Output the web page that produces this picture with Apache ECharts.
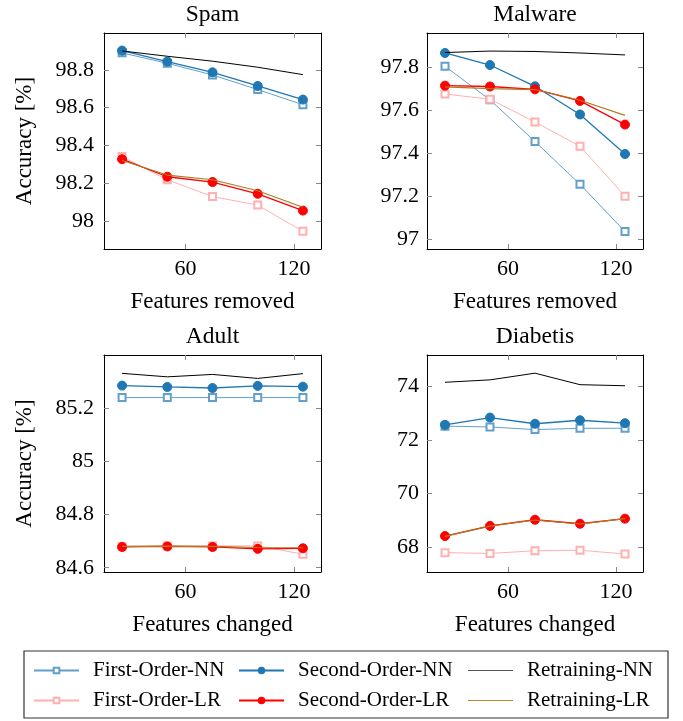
<!DOCTYPE html>
<html>
<head>
<meta charset="utf-8">
<script src="https://cdn.jsdelivr.net/npm/echarts@6/dist/echarts.min.js"></script>
<style>html,body{margin:0;padding:0;background:#fff}#c{width:683px;height:721px}</style>
</head>
<body>
<div id="c"></div>
<script>
// ---- data ----
const xs = [25, 50, 75, 100, 125];
const seriesNames = ['First-Order-NN', 'Second-Order-NN', 'Retraining-NN', 'First-Order-LR', 'Second-Order-LR', 'Retraining-LR'];
const panelTitles = ['Spam', 'Malware', 'Adult', 'Diabetis'];
const xAxisNames = ['Features removed', 'Features removed', 'Features changed', 'Features changed'];
const yAxisName = 'Accuracy [%]';
const xTicks = [60, 120];
const xRange = [15, 135];

const spamFirstNN   = [98.890, 98.835, 98.773, 98.696, 98.616];
const spamSecondNN  = [98.902, 98.844, 98.787, 98.715, 98.643];
const spamRetrainNN = [98.900, 98.872, 98.846, 98.814, 98.775];
const spamFirstLR   = [98.342, 98.219, 98.130, 98.085, 97.947];
const spamSecondLR  = [98.328, 98.235, 98.207, 98.145, 98.056];
const spamRetrainLR = [98.321, 98.244, 98.219, 98.161, 98.074];
const spamTicks = [98, 98.2, 98.4, 98.6, 98.8];
const spamRange = [97.853, 98.995];

const malwareFirstNN   = [97.803, 97.647, 97.453, 97.254, 97.034];
const malwareSecondNN  = [97.865, 97.809, 97.710, 97.579, 97.395];
const malwareRetrainNN = [97.867, 97.874, 97.872, 97.865, 97.856];
const malwareFirstLR   = [97.674, 97.650, 97.544, 97.431, 97.199];
const malwareSecondLR  = [97.713, 97.709, 97.696, 97.642, 97.532];
const malwareRetrainLR = [97.707, 97.699, 97.695, 97.645, 97.575];
const malwareTicks = [97, 97.2, 97.4, 97.6, 97.8];
const malwareRange = [96.953, 97.958];

const adultFirstNN   = [85.239, 85.239, 85.239, 85.239, 85.239];
const adultSecondNN  = [85.284, 85.279, 85.275, 85.283, 85.280];
const adultRetrainNN = [85.330, 85.317, 85.326, 85.311, 85.329];
const adultFirstLR   = [84.680, 84.682, 84.682, 84.682, 84.651];
const adultSecondLR  = [84.678, 84.680, 84.678, 84.671, 84.673];
const adultRetrainLR = [84.680, 84.681, 84.680, 84.676, 84.675];
const adultTicks = [84.6, 84.8, 85, 85.2];
const adultRange = [84.584, 85.399];

const diabetisFirstNN   = [72.51, 72.48, 72.38, 72.43, 72.43];
const diabetisSecondNN  = [72.56, 72.83, 72.60, 72.73, 72.62];
const diabetisRetrainNN = [74.15, 74.24, 74.49, 74.06, 74.02];
const diabetisFirstLR   = [67.78, 67.75, 67.85, 67.87, 67.73];
const diabetisSecondLR  = [68.40, 68.78, 69.01, 68.86, 69.05];
const diabetisRetrainLR = [68.39, 68.77, 69.00, 68.85, 69.05];
const diabetisTicks = [68, 70, 72, 74];
const diabetisRange = [67.056, 75.17];

const panelSeries = [
  [spamFirstNN, spamSecondNN, spamRetrainNN, spamFirstLR, spamSecondLR, spamRetrainLR],
  [malwareFirstNN, malwareSecondNN, malwareRetrainNN, malwareFirstLR, malwareSecondLR, malwareRetrainLR],
  [adultFirstNN, adultSecondNN, adultRetrainNN, adultFirstLR, adultSecondLR, adultRetrainLR],
  [diabetisFirstNN, diabetisSecondNN, diabetisRetrainNN, diabetisFirstLR, diabetisSecondLR, diabetisRetrainLR]
];
const panelTicks = [spamTicks, malwareTicks, adultTicks, diabetisTicks];
const panelRanges = [spamRange, malwareRange, adultRange, diabetisRange];

// ---- styles ----
const FONT = '"Liberation Serif", "DejaVu Serif", serif';
const grids = [
  {left: 104, top: 33, width: 217, height: 216},
  {left: 427, top: 33, width: 216, height: 216},
  {left: 104, top: 355, width: 217, height: 217},
  {left: 427, top: 355, width: 216, height: 217}
];
const styles = [
  {color: '#62a0cb', symbol: 'emptyRect', size: 7, width: 1},
  {color: '#1f77b4', symbol: 'circle', size: 9, width: 1.3},
  {color: '#000000', symbol: 'none', size: 0, width: 1},
  {color: '#ffb0b0', symbol: 'emptyRect', size: 7, width: 1},
  {color: '#ff0000', symbol: 'circle', size: 9, width: 1.3},
  {color: '#ad7b22', symbol: 'none', size: 0, width: 1.2}
];
const legendIconColors = ['#62a0cb', '#1f77b4', '#555555', '#ffb0b0', '#ff0000', '#b8892e'];
const labelMargins = [10, 8, 10, 8];

const tickStyle = {inside: true, length: 5, lineStyle: {color: '#888', width: 1}};
const axisLineStyle = {show: true, lineStyle: {color: '#000', width: 1}};

const xAxes = [], yAxes = [], series = [];
grids.forEach((g, p) => {
  xAxes.push({
    type: 'value', gridIndex: p, position: 'bottom', min: xRange[0], max: xRange[1],
    axisLine: axisLineStyle, splitLine: {show: false},
    axisTick: Object.assign({customValues: xTicks}, tickStyle),
    axisLabel: {customValues: xTicks, margin: 9, fontFamily: FONT, fontSize: 22, color: '#000'},
    name: xAxisNames[p], nameLocation: 'middle', nameGap: 41,
    nameTextStyle: {fontFamily: FONT, fontSize: 23, color: '#000'}
  });
  xAxes.push({
    type: 'value', gridIndex: p, position: 'top', min: xRange[0], max: xRange[1],
    axisLine: axisLineStyle, splitLine: {show: false},
    axisTick: Object.assign({customValues: xTicks}, tickStyle),
    axisLabel: {show: false},
    name: panelTitles[p], nameLocation: 'middle', nameGap: 6,
    nameTextStyle: {fontFamily: FONT, fontSize: 23.5, color: '#000'}
  });
  const yl = {
    type: 'value', gridIndex: p, position: 'left', min: panelRanges[p][0], max: panelRanges[p][1],
    axisLine: axisLineStyle, splitLine: {show: false},
    axisTick: Object.assign({customValues: panelTicks[p]}, tickStyle),
    axisLabel: {customValues: panelTicks[p], margin: labelMargins[p], fontFamily: FONT, fontSize: 22, color: '#000'}
  };
  if (p % 2 === 0) {
    yl.name = yAxisName; yl.nameLocation = 'middle'; yl.nameGap = 68; yl.nameRotate = 90;
    yl.nameTextStyle = {fontFamily: FONT, fontSize: 23, color: '#000'};
  }
  yAxes.push(yl);
  yAxes.push({
    type: 'value', gridIndex: p, position: 'right', min: panelRanges[p][0], max: panelRanges[p][1],
    axisLine: axisLineStyle, splitLine: {show: false},
    axisTick: Object.assign({customValues: panelTicks[p]}, tickStyle),
    axisLabel: {show: false}
  });
  panelSeries[p].forEach((vals, k) => {
    const st = styles[k];
    series.push({
      type: 'line', name: seriesNames[k],
      xAxisIndex: 2 * p, yAxisIndex: 2 * p,
      data: xs.map((x, i) => [x, vals[i]]),
      symbol: st.symbol, symbolSize: st.size, showSymbol: st.symbol !== 'none',
      lineStyle: {color: st.color, width: st.width},
      itemStyle: {color: st.color, borderColor: st.color, borderWidth: 1},
      emphasis: {disabled: true},
      z: 2 + k
    });
  });
});

const legendCols = [33, 238, 468];
const legendRows = [660, 690];
const legends = seriesNames.map((n, i) => {
  const noSym = styles[i].symbol === 'none';
  const leg = {
    data: [n], left: legendCols[i % 3], top: legendRows[Math.floor(i / 3)],
    padding: 0, itemWidth: 45, itemHeight: noSym ? 1 : 7, selectedMode: false,
    textStyle: {fontFamily: FONT, fontSize: 21, color: '#000', padding: [0, 0, 0, 9]}
  };
  if (noSym) {
    leg.icon = 'rect';
    leg.itemStyle = {color: legendIconColors[i], borderWidth: 0};
  }
  return leg;
});

const chart = echarts.init(document.getElementById('c'), null, {renderer: 'canvas'});
chart.setOption({
  animation: false,
  backgroundColor: '#fff',
  grid: grids,
  xAxis: xAxes,
  yAxis: yAxes,
  legend: legends,
  series: series,
  graphic: [{
    type: 'rect', shape: {x: 24, y: 651, width: 644, height: 67},
    style: {fill: 'none', stroke: '#333', lineWidth: 1.2}, silent: true
  }]
});
</script>
</body>
</html>
